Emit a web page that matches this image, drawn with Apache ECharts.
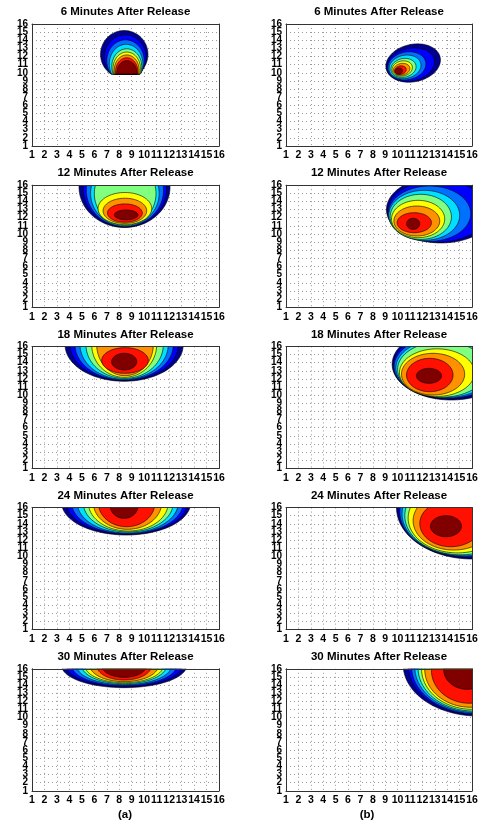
<!DOCTYPE html>
<html><head><meta charset="utf-8">
<script src="https://cdn.jsdelivr.net/npm/echarts@6/dist/echarts.min.js"></script>
<style>html,body{margin:0;padding:0;background:#fff}#c{width:483px;height:826px}</style>
</head><body><div id="c"></div>
<script>
// ---- data ----
const ticks = [1,2,3,4,5,6,7,8,9,10,11,12,13,14,15,16];
const minutes = [6, 12, 18, 24, 30];
const panelLetters = ['(a)', '(b)'];
// each contour level: [left, right, bottom, top] extent in grid units (outer -> inner)
const plumeA6 = [[6.5,10.3,9.35,15.2],[6.8,10.15,9.1,14.65],[7.0,10.0,8.9,14.05],[7.2,9.9,8.65,13.5],[7.4,9.8,8.6,12.95],[7.5,9.7,8.5,12.55],[7.6,9.6,8.45,12.2],[7.7,9.5,8.4,11.85],[7.8,9.42,8.45,11.5]];
const plumeB6 = [[9.03,13.48,8.9,13.5],[9.1,13.0,9.0,13.0],[9.2,12.3,9.15,12.55],[9.3,11.9,9.3,12.15],[9.45,11.5,9.45,11.75],[9.55,11.2,9.6,11.45],[9.65,11.0,9.7,11.15],[9.75,10.7,9.8,10.85],[9.8,10.4,9.85,10.6]];
const plumeA12 = [[4.77,12.07,10.8,20.8],[5.1,11.8,10.85,20.35],[5.35,11.55,10.9,19.9],[5.7,11.2,10.95,19.05],[6.0,10.95,11.05,18.9],[6.3,10.6,11.15,15.1],[6.7,10.2,11.3,14.4],[7.05,9.85,11.45,13.7],[7.6,9.5,11.75,12.95]];
const plumeB12 = [[9.1,17.9,8.9,17.1],[9.2,17.3,9.0,16.6],[9.25,15.9,9.1,15.9],[9.29,15.01,9.22,15.37],[9.4,14.34,9.34,14.88],[9.51,13.8,9.55,14.14],[9.7,13.4,9.75,13.44],[9.96,12.73,10.16,12.62],[10.72,11.79,10.57,11.93]];
const plumeA18 = [[3.65,13.13,11.71,20.7],[4.05,12.73,11.79,20.6],[4.45,12.33,11.87,20.5],[4.85,11.93,11.95,20.45],[5.33,11.53,12.07,20.3],[5.79,11.0,12.2,20.2],[6.19,10.73,12.4,20.0],[6.59,10.33,12.69,15.85],[7.39,9.4,13.1,15.15]];
const plumeB18 = [[9.56,19.1,9.41,18.2],[9.64,18.7,9.54,17.8],[9.72,18.3,9.62,17.4],[9.86,17.8,9.7,17.0],[10.0,17.2,9.76,16.6],[10.15,16.2,9.85,15.7],[10.31,15.41,10.02,15.15],[10.72,14.47,10.43,14.53],[11.52,13.54,11.46,13.3]];
const plumeA24 = [[3.38,13.73,12.63,20.57],[3.78,13.46,12.71,20.49],[4.18,13.13,12.79,20.41],[4.63,12.73,12.87,20.33],[5.11,12.33,13.0,20.2],[5.52,11.93,13.12,20.08],[5.92,11.4,13.33,19.87],[6.32,10.86,13.65,19.55],[7.26,9.52,14.68,17.92]];
const plumeB24 = [[9.91,22.1,9.68,22.3],[10.04,21.5,9.84,21.6],[10.18,21.0,9.96,21.0],[10.36,20.4,10.08,20.4],[10.58,19.6,10.2,19.8],[10.85,18.8,10.43,19.0],[11.25,17.8,10.78,18.0],[11.79,16.8,11.19,16.9],[12.65,15.15,12.42,15.0]];
const plumeA30 = [[3.38,13.4,13.68,19.12],[3.78,13.0,13.8,19.0],[4.18,12.6,13.93,18.87],[4.58,12.2,14.05,18.75],[4.99,11.79,14.17,18.63],[5.25,11.53,14.29,18.51],[5.65,11.13,14.42,18.38],[6.19,10.59,14.62,18.18],[6.59,10.19,14.95,17.85]];
const plumeB30 = [[10.45,22.55,10.19,22.81],[10.85,21.95,10.36,22.44],[11.12,21.48,10.48,22.12],[11.39,21.01,10.65,21.75],[11.65,20.55,10.81,21.39],[11.93,20.07,11.02,20.98],[12.19,19.61,11.27,20.53],[12.73,18.87,11.76,19.84],[13.72,17.48,13.48,18.32]];
// tilt of the plume (deg) and lower cut-off line (grid units, null = none)
const tilts  = [0, 12, 0, 0, 0, 0, 0, 0, 0, 0];
const floors = [9.85, null, null, null, null, null, null, null, null, null];

const plumes = [plumeA6, plumeB6, plumeA12, plumeB12, plumeA18, plumeB18, plumeA24, plumeB24, plumeA30, plumeB30];
const levelColors = ['#00008F','#0000FF','#0070FF','#00DFFF','#80FF80','#FFFF00','#FF9000','#FF1000','#800000'];

// ---- layout ----
const FONT = '"Liberation Sans", Arial, sans-serif';
const colLeft = [32, 286], colWidth = [187, 186];
const rowTop0 = 24, rowStep = 161.2, boxH = 122;
const dotLine = {show: true, lineStyle: {type: [1, 3], color: '#9a9a9a', width: 1}};
const frame = {show: true, onZero: false, lineStyle: {color: '#333', width: 1}};

const grids = [], xAxes = [], yAxes = [], series = [], graphics = [];
plumes.forEach((levels, p) => {
  const r = Math.floor(p / 2), c = p % 2;
  const top = rowTop0 + r * rowStep;
  grids.push({left: colLeft[c], top: top, width: colWidth[c], height: boxH, containLabel: false});
  const ax = {gridIndex: p, type: 'value', min: ticks[0], max: ticks[ticks.length-1], interval: 1};
  // bottom x axis: labels + dotted grid
  xAxes.push(Object.assign({}, ax, {position: 'bottom', axisLine: frame, axisTick: {show: false},
    axisLabel: {margin: 4, fontSize: 10.5, fontWeight: 'bold', color: '#000', fontFamily: FONT, showMinLabel: true, showMaxLabel: true},
    splitLine: dotLine}));
  // top frame
  xAxes.push(Object.assign({}, ax, {position: 'top', z: 10, axisLine: frame, axisTick: {show: false},
    axisLabel: {show: false}, splitLine: {show: false}}));
  // left y axis: all 16 tick labels + dotted grid
  yAxes.push({gridIndex: p, type: 'category', position: 'left', boundaryGap: false, data: ticks.map(String),
    axisLine: frame, axisTick: {show: false},
    axisLabel: {interval: 0, margin: 4, fontSize: 10, fontWeight: 'bold', color: '#000', fontFamily: FONT},
    splitLine: Object.assign({interval: 0}, dotLine)});
  // right frame, value scale used by the contours
  yAxes.push(Object.assign({}, ax, {position: 'right', z: 10, axisLine: frame, axisTick: {show: false},
    axisLabel: {show: false}, splitLine: {show: false}}));
  const tilt = tilts[p] * Math.PI / 180, floorY = floors[p];
  series.push({
    type: 'custom', xAxisIndex: 2 * p, yAxisIndex: 2 * p + 1, clip: true, z: 3,
    data: levels.map((d, i) => [ (d[0]+d[1])/2, (d[2]+d[3])/2, i ]),
    renderItem: function (params, api) {
      const d = levels[params.dataIndex];
      const ctr = api.coord([(d[0]+d[1])/2, (d[2]+d[3])/2]);
      const sz = api.size([(d[1]-d[0])/2, (d[3]-d[2])/2]);
      const floorPx = floorY == null ? Infinity : api.coord([ticks[0], floorY])[1];
      const pts = [];
      const N = 90;
      for (let k = 0; k < N; k++) {
        const t = 2 * Math.PI * k / N;
        const u = sz[0] * Math.cos(t), v = sz[1] * Math.sin(t);
        let x = ctr[0] + u * Math.cos(tilt) - v * Math.sin(tilt);
        let y = ctr[1] - (u * Math.sin(tilt) + v * Math.cos(tilt));
        if (y > floorPx) y = floorPx;
        pts.push([x, y]);
      }
      return {type: 'polygon', shape: {points: pts},
        style: {fill: levelColors[params.dataIndex], stroke: '#000', lineWidth: 0.6}};
    }
  });
  graphics.push({type: 'text', x: colLeft[c] + colWidth[c] / 2, y: top - 12,
    style: {text: minutes[r] + ' Minutes After Release', fill: '#000', font: 'bold 11.5px ' + FONT,
      align: 'center', textAlign: 'center', verticalAlign: 'middle', textVerticalAlign: 'middle'}});
});
graphics.push({type: 'text', x: 125, y: 815, style: {text: panelLetters[0], fill: '#000', font: 'bold 11.5px ' + FONT, align: 'center', textAlign: 'center', verticalAlign: 'middle', textVerticalAlign: 'middle'}});
graphics.push({type: 'text', x: 367, y: 815, style: {text: panelLetters[1], fill: '#000', font: 'bold 11.5px ' + FONT, align: 'center', textAlign: 'center', verticalAlign: 'middle', textVerticalAlign: 'middle'}});

const chart = echarts.init(document.getElementById('c'), null, {renderer: 'canvas'});
chart.setOption({
  animation: false, backgroundColor: '#fff',
  grid: grids, xAxis: xAxes, yAxis: yAxes, series: series, graphic: graphics
});
</script></body></html>
